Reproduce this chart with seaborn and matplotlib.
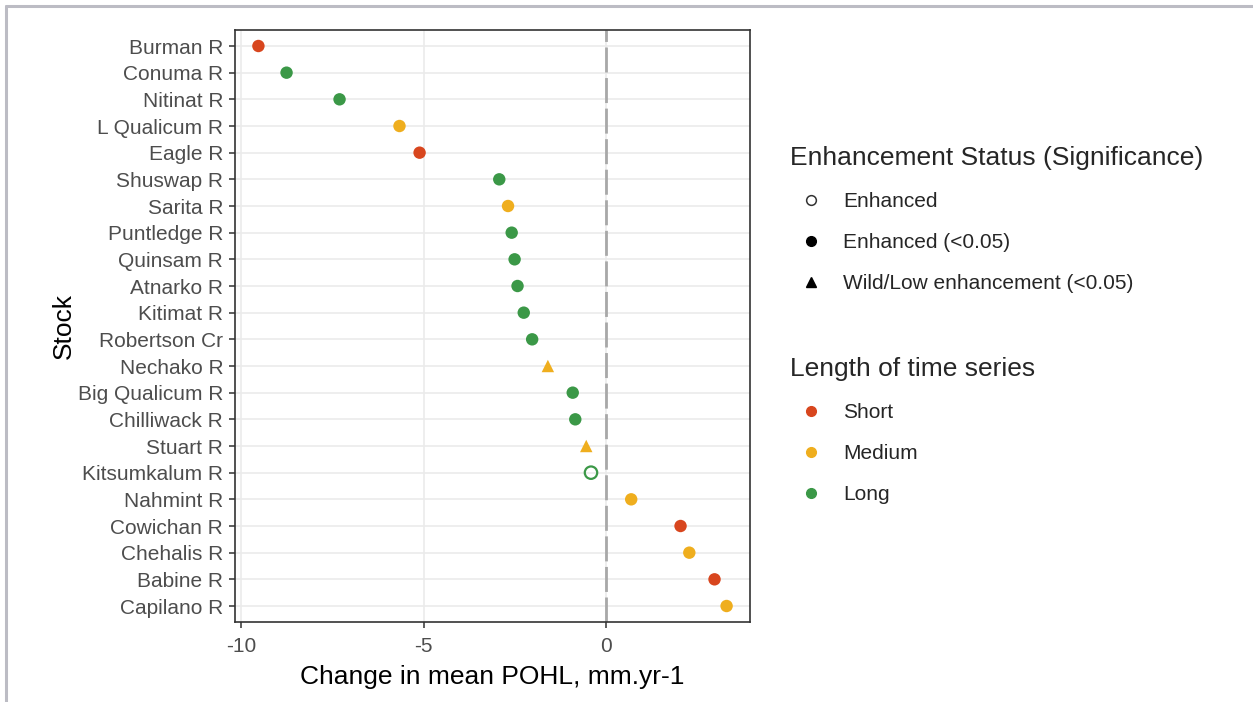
import numpy as np
import pandas as pd
import matplotlib
matplotlib.use('Agg')
import matplotlib.pyplot as plt
from matplotlib.lines import Line2D
import seaborn as sns

# chart data
stocks = ["Burman R", "Conuma R", "Nitinat R", "L Qualicum R", "Eagle R", "Shuswap R",
          "Sarita R", "Puntledge R", "Quinsam R", "Atnarko R", "Kitimat R", "Robertson Cr",
          "Nechako R", "Big Qualicum R", "Chilliwack R", "Stuart R", "Kitsumkalum R",
          "Nahmint R", "Cowichan R", "Chehalis R", "Babine R", "Capilano R"]
change = [-9.52, -8.75, -7.30, -5.66, -5.11, -2.93, -2.69, -2.59, -2.51, -2.43, -2.26,
          -2.03, -1.60, -0.92, -0.85, -0.55, -0.42, 0.68, 2.03, 2.27, 2.96, 3.29]
length = ["Short", "Long", "Long", "Medium", "Short", "Long", "Medium", "Long", "Long",
          "Long", "Long", "Long", "Medium", "Long", "Long", "Medium", "Long", "Medium",
          "Short", "Medium", "Short", "Medium"]
status = ["Enhanced (<0.05)"] * 22
status[12] = "Wild/Low enhancement (<0.05)"   # Nechako R
status[15] = "Wild/Low enhancement (<0.05)"   # Stuart R
status[16] = "Enhanced"                       # Kitsumkalum R

length_levels = ["Short", "Medium", "Long"]
status_levels = ["Enhanced", "Enhanced (<0.05)", "Wild/Low enhancement (<0.05)"]
palette = {"Short": "#D8461E", "Medium": "#EFAE1E", "Long": "#3B9847"}
markers = {"Enhanced": "o", "Enhanced (<0.05)": "o", "Wild/Low enhancement (<0.05)": "^"}

df = pd.DataFrame({"Stock": stocks, "change": change, "length": length, "status": status})

sns.set_style("white")
plt.rcParams['font.family'] = ['Liberation Sans', 'DejaVu Sans']

fig = plt.figure(figsize=(12.53, 7.02), dpi=100)
ax = fig.add_axes([235 / 1253, 80 / 702, 515 / 1253, 592 / 702])

sns.scatterplot(data=df, x="change", y="Stock", hue="length", style="status",
                palette=palette, markers=markers, hue_order=length_levels,
                style_order=status_levels, s=80, linewidth=0, legend=False, ax=ax)

# non-significant enhanced stocks are drawn as open circles
pts = ax.collections[0]
fc = pts.get_facecolors().copy()
ec = fc.copy()
hollow = (df["status"] == "Enhanced").values
fc[hollow, 3] = 0
pts.set_facecolors(fc)
pts.set_edgecolors(ec)
pts.set_linewidths(np.where(hollow, 1.6, 0))

ax.axvline(0, color='#A8A8A8', lw=2, ls=(0, (9, 2)), zorder=1)

ax.margins(x=0.05)
ax.set_ylim(len(stocks) - 0.4, -0.6)
ax.set_xticks([-10, -5, 0])
ax.set_xticklabels(["-10", "-5", "0"])
ax.grid(True, color='#EBEBEB', lw=1.2)
ax.set_axisbelow(True)
for sp in ax.spines.values():
    sp.set_color('#333333')
    sp.set_linewidth(1.2)
ax.tick_params(axis='both', length=4, width=1.1, color='#333333',
               labelcolor='#4D4D4D', labelsize=15, bottom=True, left=True)
ax.tick_params(axis='x', pad=6.5)
ax.tick_params(axis='y', pad=4.5)
ax.set_xlabel("Change in mean POHL, mm.yr-1", fontsize=19, color='black', labelpad=7)
ax.set_ylabel("Stock", fontsize=19, color='black', labelpad=1.5)

# legends
status_handles = [
    Line2D([], [], ls='', marker='o', markersize=7, markerfacecolor='none',
           markeredgecolor='#333333', markeredgewidth=1.1),
    Line2D([], [], ls='', marker='o', markersize=7, color='black'),
    Line2D([], [], ls='', marker='^', markersize=7, color='black'),
]
length_handles = [Line2D([], [], ls='', marker='o', markersize=7, color=palette[k])
                  for k in length_levels]

leg_kw = dict(loc='upper left', bbox_transform=fig.transFigure, frameon=False,
              borderpad=0, fontsize=15, title_fontsize=19, alignment='left',
              handlelength=2.0, handletextpad=0.55, labelspacing=1.06, borderaxespad=0)
leg1 = ax.legend(status_handles, status_levels, title="Enhancement Status (Significance)",
                 bbox_to_anchor=(790 / 1253, 1 - 146 / 702), **leg_kw)
ax.add_artist(leg1)
ax.legend(length_handles, length_levels, title="Length of time series",
          bbox_to_anchor=(790 / 1253, 1 - 357 / 702), **leg_kw)

# thin frame around the image (top and left edges)
fig.add_artist(Line2D([6 / 1253, 1], [1 - 6 / 702, 1 - 6 / 702], color='#BCBCC4', lw=2.2,
                      transform=fig.transFigure))
fig.add_artist(Line2D([6 / 1253, 6 / 1253], [0, 1 - 6 / 702], color='#BCBCC4', lw=2.2,
                      transform=fig.transFigure))

plt.savefig('out.png', dpi=100)
